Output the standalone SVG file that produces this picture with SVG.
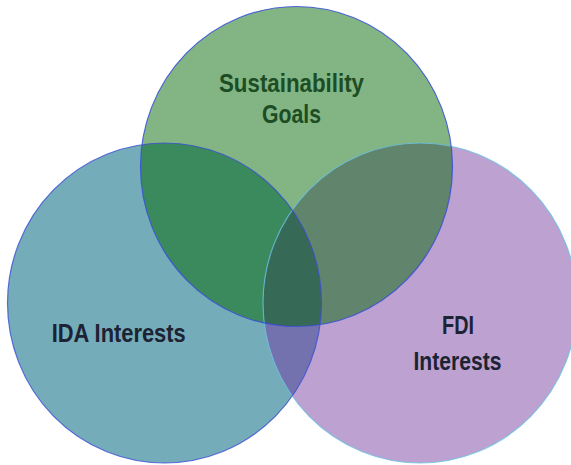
<svg xmlns="http://www.w3.org/2000/svg" xmlns:xlink="http://www.w3.org/1999/xlink" width="571" height="465" viewBox="0 0 571 465">
<style>
.lbl{font-family:"Liberation Sans",Arial,sans-serif;font-weight:bold;font-size:26px;text-anchor:middle}
.dark{fill:#1c2333}
.green{fill:#1d4d24}
.edge{fill:none;stroke-width:1.2}
</style>
<defs>
<ellipse id="shapeA" cx="296.5" cy="166.5" rx="156" ry="160"/>
<ellipse id="shapeB" cx="164.5" cy="303" rx="157" ry="160"/>
<ellipse id="shapeC" cx="420" cy="303" rx="157" ry="160"/>
<clipPath id="clipA"><use xlink:href="#shapeA"/></clipPath>
<clipPath id="clipB"><use xlink:href="#shapeB"/></clipPath>
</defs>
<rect width="571" height="465" fill="#ffffff"/>
<g id="node-ida">
<use xlink:href="#shapeB" fill="#75acba"/>
<text class="lbl dark" x="118.7" y="342" textLength="134" lengthAdjust="spacingAndGlyphs">IDA Interests</text>
</g>
<g id="node-fdi">
<use xlink:href="#shapeC" fill="#bca1d1"/>
<text class="lbl dark" x="458" y="333.5" textLength="32" lengthAdjust="spacingAndGlyphs">FDI</text>
<text class="lbl dark" x="457.5" y="370" textLength="88" lengthAdjust="spacingAndGlyphs">Interests</text>
</g>
<g id="node-sustainability">
<use xlink:href="#shapeA" fill="#82b583"/>
<text class="lbl green" x="291.5" y="92" textLength="145" lengthAdjust="spacingAndGlyphs">Sustainability</text>
<text class="lbl green" x="291.5" y="122.5" textLength="59" lengthAdjust="spacingAndGlyphs">Goals</text>
</g>
<g id="overlaps">
<use xlink:href="#shapeB" fill="#3a8a5e" clip-path="url(#clipA)"/>
<use xlink:href="#shapeC" fill="#60846c" clip-path="url(#clipA)"/>
<use xlink:href="#shapeC" fill="#7472ae" clip-path="url(#clipB)"/>
<g clip-path="url(#clipA)"><use xlink:href="#shapeC" fill="#366956" clip-path="url(#clipB)"/></g>
</g>
<g id="connectors">
<use xlink:href="#shapeC" class="edge" stroke="#6cc0e2" stroke-opacity="0.8"/>
<use xlink:href="#shapeB" class="edge" stroke="#3a4fd2" stroke-opacity="0.8"/>
<use xlink:href="#shapeA" class="edge" stroke="#3a4fd8" stroke-opacity="0.85"/>
</g>
</svg>
